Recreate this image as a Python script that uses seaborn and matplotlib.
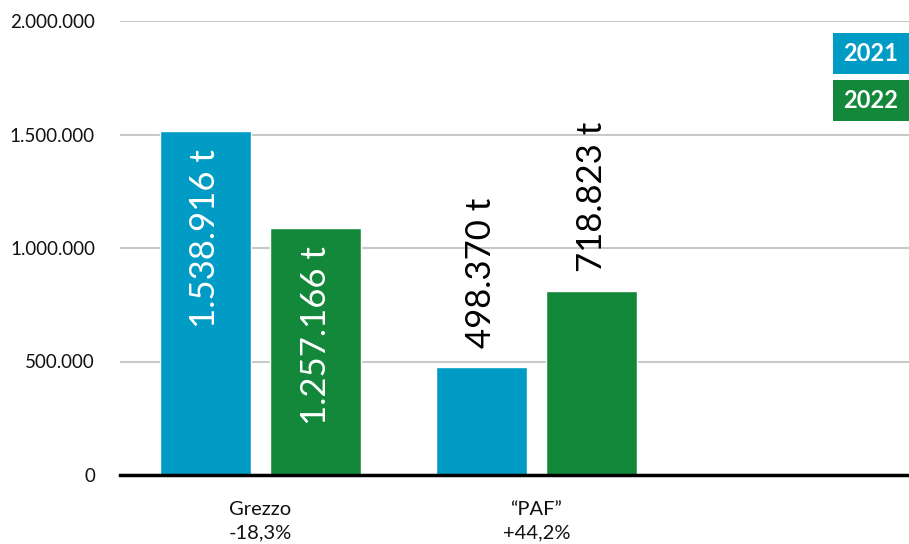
import matplotlib
matplotlib.use("Agg")
import matplotlib.pyplot as plt
import seaborn as sns
import pandas as pd
from matplotlib.patches import Rectangle

# ---- data ----
categories = ["Grezzo\n-18,3%", "\u201cPAF\u201d\n+44,2%"]
years = ["2021", "2022"]
values_2021 = [1517000, 475000]   # bar heights as drawn
values_2022 = [1089000, 810000]
labels_2021 = ["1.538.916 t", "498.370 t"]
labels_2022 = ["1.257.166 t", "718.823 t"]
y_ticks = [0, 500000, 1000000, 1500000, 2000000]
y_tick_labels = ["0", "500.000", "1.000.000", "1.500.000", "2.000.000"]

BLUE = "#009cc5"
GREEN = "#13883a"

df = pd.DataFrame({
    "cat": categories * 2,
    "year": [years[0]] * 2 + [years[1]] * 2,
    "value": values_2021 + values_2022,
})

sns.set_theme(style="white")
plt.rcParams["font.family"] = ["Lato", "DejaVu Sans"]

fig = plt.figure(figsize=(9.09, 5.44), dpi=100)
ax = fig.add_axes([120 / 909, 69 / 544, 789 / 909, 454 / 544])

sns.barplot(data=df, x="cat", y="value", hue="year", hue_order=years,
            palette=[BLUE, GREEN], width=0.8, gap=0.175, legend=False,
            saturation=1, ax=ax, order=categories)

ax.set_xlim(-0.509, 2.35)
ax.set_ylim(0, 2000000)
ax.set_yticks(y_ticks)
ax.set_yticklabels(y_tick_labels, fontsize=13.5, color="#111111")
ax.set_xlabel("")
ax.set_ylabel("")
ax.tick_params(axis="y", length=0, pad=18)
ax.tick_params(axis="x", length=0, pad=18.5, labelsize=14.5, labelcolor="#111111")
for lbl in ax.get_xticklabels():
    lbl.set_linespacing(1.5)

ax.yaxis.grid(True, color="#c8c8c8", linewidth=1.5)
ax.set_axisbelow(True)
for s in ["top", "right", "left"]:
    ax.spines[s].set_visible(False)
ax.spines["bottom"].set_color("black")
ax.spines["bottom"].set_linewidth(2.5)

label_sets = [labels_2021, labels_2022]
for cont, labs in zip(ax.containers, label_sets):
    for i, (bar, lab) in enumerate(zip(cont, labs)):
        x = bar.get_x() + bar.get_width() / 2
        h = bar.get_height()
        if i == 0:
            ax.annotate(lab, (x, h), xytext=(0, -13), textcoords="offset points",
                        rotation=90, ha="center", va="top", color="white",
                        fontsize=25, fontweight="normal")
        else:
            ax.annotate(lab, (x, h), xytext=(0, 14), textcoords="offset points",
                        rotation=90, ha="center", va="bottom", color="black",
                        fontsize=25, fontweight="normal")

# legend boxes
for yr, col, top in [(years[0], BLUE, 33), (years[1], GREEN, 80)]:
    x0, w, hgt = 833 / 909, 76 / 909, 41 / 544
    y0 = 1 - (top + 41) / 544
    fig.patches.append(Rectangle((x0, y0), w, hgt, transform=fig.transFigure,
                                 facecolor=col, edgecolor="none"))
    fig.text(x0 + w / 2, y0 + hgt / 2, yr, color="white", fontsize=17,
             fontweight="bold", ha="center", va="center")

fig.savefig("out.png", dpi=100)
